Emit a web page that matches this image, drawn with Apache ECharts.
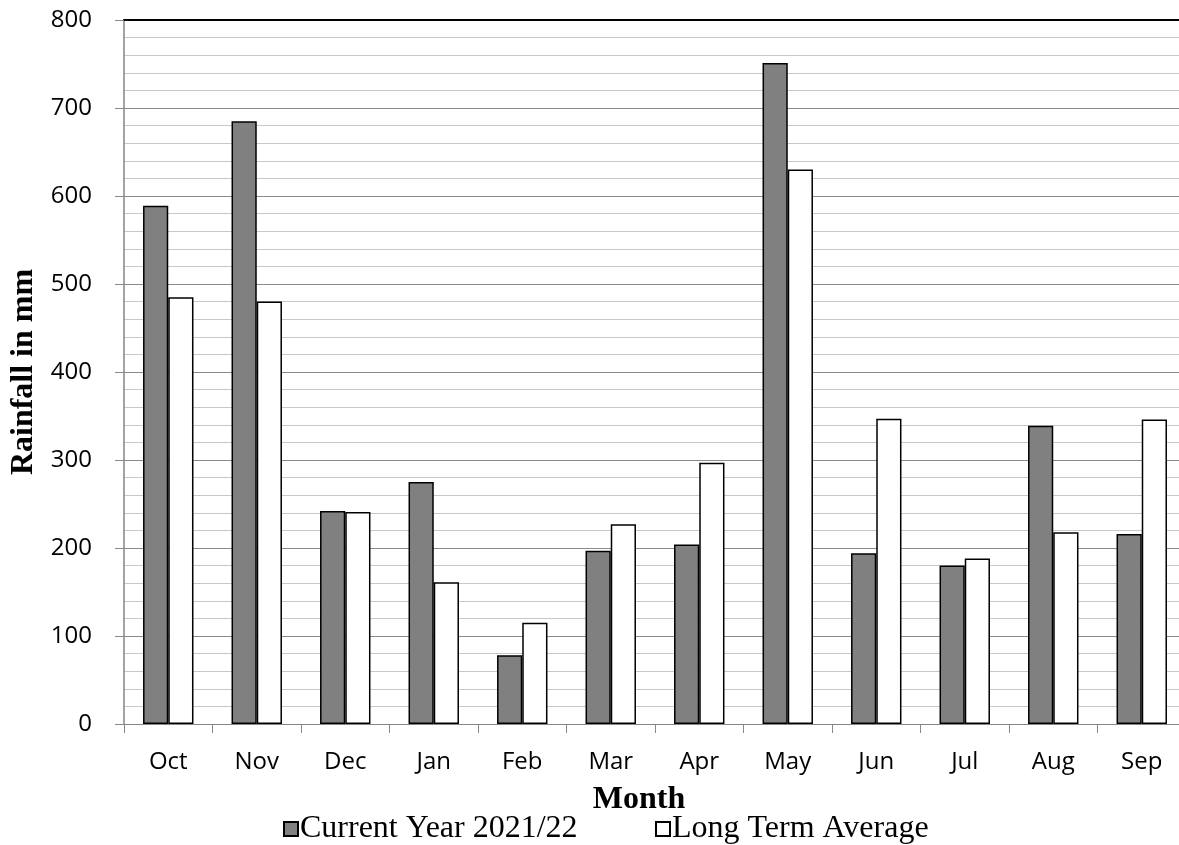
<!DOCTYPE html>
<html>
<head>
<meta charset="utf-8">
<script src="https://cdn.jsdelivr.net/npm/echarts@6/dist/echarts.min.js"></script>
<style>
html,body{margin:0;padding:0;background:#fff;}
#chart{width:1179px;height:845px;}
</style>
</head>
<body>
<div id="chart"></div>
<script>
const months = ['Oct','Nov','Dec','Jan','Feb','Mar','Apr','May','Jun','Jul','Aug','Sep'];
const currentYear = [589, 685, 242, 275, 78, 197, 204, 751, 194, 180, 339, 216];
const longTermAverage = [485, 480, 241, 161, 115, 227, 297, 630, 347, 188, 218, 346];
const seriesNames = ['Current Year 2021/22', 'Long Term Average'];
const yTicks = {min: 0, max: 800, interval: 100};

const chart = echarts.init(document.getElementById('chart'));
const tickFont = {fontFamily: 'Open Sans', fontSize: 24, color: '#000'};
const legendBase = {
  top: 808,
  icon: 'rect',
  itemWidth: 14,
  itemHeight: 14,
  textStyle: {fontFamily: 'Liberation Serif', fontSize: 32, color: '#000', padding: [0, 0, 0, -3]}
};
chart.setOption({
  animation: false,
  backgroundColor: '#fff',
  title: {
    text: 'Month',
    left: 634,
    top: 779,
    textAlign: 'center',
    textStyle: {fontFamily: 'Liberation Serif', fontWeight: 'bold', fontSize: 32, color: '#000'}
  },
  legend: [
    Object.assign({data: [seriesNames[0]], left: 278}, legendBase),
    Object.assign({data: [seriesNames[1]], left: 650}, legendBase)
  ],
  grid: {left: 124, right: -7, top: 20, bottom: 121, containLabel: false, outerBoundsMode: 'none'},
  xAxis: [{
    type: 'category',
    data: months,
    axisLine: {lineStyle: {color: '#868686', width: 1}},
    axisTick: {show: true, length: 9, lineStyle: {color: '#868686'}},
    axisLabel: Object.assign({margin: 26}, tickFont)
  }, {
    type: 'category',
    data: months,
    position: 'top',
    axisLine: {lineStyle: {color: '#000', width: 2}},
    axisTick: {show: false},
    axisLabel: {show: false}
  }],
  yAxis: {
    type: 'value',
    min: yTicks.min,
    max: yTicks.max,
    interval: yTicks.interval,
    name: 'Rainfall in mm',
    nameLocation: 'middle',
    nameGap: 83,
    nameTextStyle: {fontFamily: 'Liberation Serif', fontWeight: 'bold', fontSize: 32, color: '#000'},
    axisLine: {show: true, lineStyle: {color: '#868686', width: 1.5}},
    axisTick: {show: true, length: 9, lineStyle: {color: '#868686'}},
    axisLabel: Object.assign({margin: 32}, tickFont),
    splitLine: {show: true, lineStyle: {color: '#8a8a8a', width: 1.2}},
    minorTick: {show: false, splitNumber: 5},
    minorSplitLine: {show: true, lineStyle: {color: '#c8c8c8', width: 1.2}}
  },
  series: [{
    name: seriesNames[0],
    type: 'bar',
    data: currentYear,
    barGap: '0%',
    barCategoryGap: '43%',
    itemStyle: {color: '#808080', borderColor: '#000', borderWidth: 1.5}
  }, {
    name: seriesNames[1],
    type: 'bar',
    data: longTermAverage,
    itemStyle: {color: '#ffffff', borderColor: '#000', borderWidth: 1.5}
  }]
});
</script>
</body>
</html>
